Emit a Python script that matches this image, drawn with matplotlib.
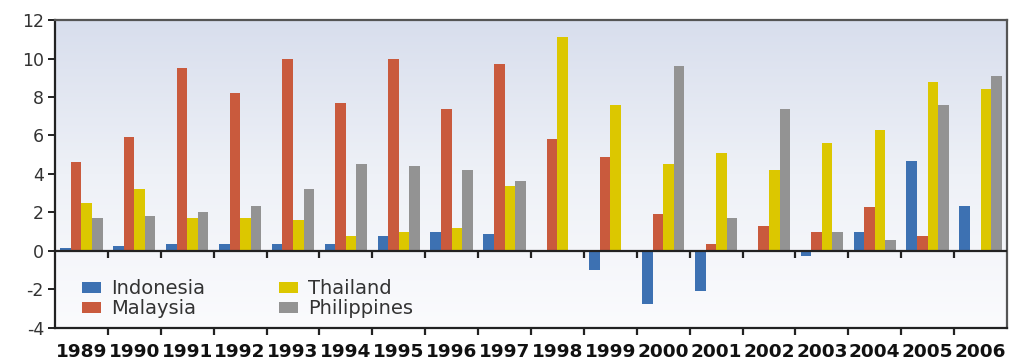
import numpy as np
import matplotlib
matplotlib.use("Agg")
import matplotlib.pyplot as plt
from matplotlib.colors import LinearSegmentedColormap

plt.rcParams["axes.unicode_minus"] = False

years = [str(y) for y in range(1989, 2007)]
indonesia = [0.15, 0.25, 0.35, 0.35, 0.35, 0.35, 0.8, 1.0, 0.9, -0.05, -1.0, -2.75, -2.1, 0.05, -0.25, 1.0, 4.7, 2.35]
malaysia = [4.6, 5.9, 9.5, 8.2, 10.0, 7.7, 10.0, 7.4, 9.7, 5.8, 4.9, 1.9, 0.35, 1.3, 1.0, 2.3, 0.8, 0.0]
thailand = [2.5, 3.2, 1.7, 1.7, 1.6, 0.8, 1.0, 1.2, 3.4, 11.1, 7.6, 4.5, 5.1, 4.2, 5.6, 6.3, 8.8, 8.4]
philippines = [1.7, 1.8, 2.0, 2.35, 3.2, 4.5, 4.4, 4.2, 3.65, 0.0, 0.0, 9.6, 1.7, 7.4, 1.0, 0.55, 7.6, 9.1]

series = [("Indonesia", indonesia, "#3d71b2"),
          ("Malaysia", malaysia, "#c95a3d"),
          ("Thailand", thailand, "#dcc700"),
          ("Philippines", philippines, "#939393")]

fig = plt.figure(figsize=(10.11, 3.64), dpi=100)
ax = fig.add_axes([0.0544, 0.099, 0.9416, 0.846])

# background gradient (blue-grey at top, almost white at bottom)
cmap = LinearSegmentedColormap.from_list("bg", ["#fbfbfd", "#eef1f7", "#d8deed"])
grad = np.linspace(0, 1, 256).reshape(-1, 1)
ax.imshow(grad, extent=[0, 1, 0, 1], transform=ax.transAxes, aspect="auto",
          cmap=cmap, origin="lower", zorder=0)

x = np.arange(len(years))
w = 0.2
for i, (name, vals, col) in enumerate(series):
    ax.bar(x + (i - 1.5) * w, vals, width=w, color=col, label=name, zorder=2)

ax.set_xlim(-0.5, len(years) - 0.5)
ax.set_ylim(-4, 12)
ax.set_yticks([-4, -2, 0, 2, 4, 6, 8, 10, 12])

# zero line with tick marks at group boundaries
ax.axhline(0, color="#222222", lw=1.6, zorder=3)
bounds = np.arange(len(years) - 1) + 0.5
ax.plot(bounds, np.zeros_like(bounds), ls="none", marker=3, ms=5, mew=1.6,
        color="#222222", zorder=3, clip_on=False)

ax.set_xticks(x)
ax.set_xticklabels(years, fontsize=13.3, fontweight="bold", color="#111111",
                   family="DejaVu Sans")
ax.set_xticks(bounds, minor=True)
ax.tick_params(axis="x", which="major", length=0, pad=11)
ax.tick_params(axis="x", which="minor", length=5, width=1.6, color="#222222")
ax.tick_params(axis="y", length=5, width=1.4, color="#222222", labelsize=12.5,
               labelcolor="#333333", pad=3)

for s in ["left", "bottom"]:
    ax.spines[s].set_color("#222222")
    ax.spines[s].set_linewidth(1.6)
for s in ["top", "right"]:
    ax.spines[s].set_color("#555555")
    ax.spines[s].set_linewidth(1.6)

ax.legend(ncol=2, loc="lower left", bbox_to_anchor=(0.018, 0.0), frameon=False,
          fontsize=14, handlelength=1.0, handleheight=0.55, handletextpad=0.5,
          columnspacing=3.8, labelspacing=0.05, labelcolor="#333333",
          borderaxespad=0.0, borderpad=0.5)

fig.savefig("out.png", dpi=100)
